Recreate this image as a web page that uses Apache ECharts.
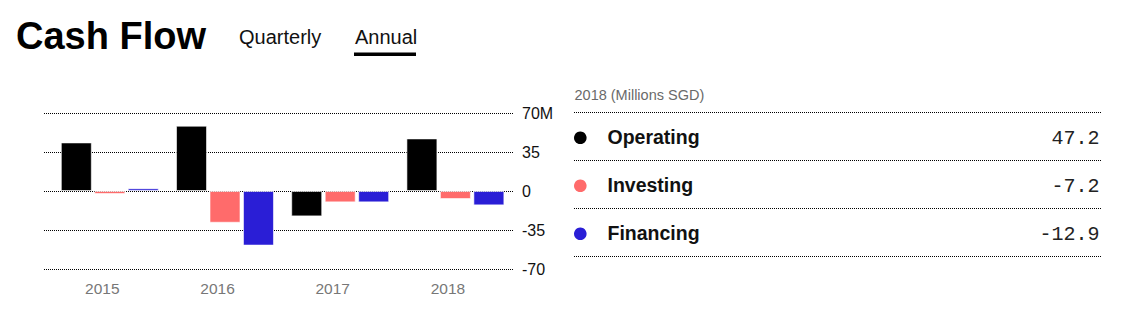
<!DOCTYPE html>
<html>
<head>
<meta charset="utf-8">
<script src="https://cdn.jsdelivr.net/npm/echarts@6/dist/echarts.min.js"></script>
<style>
html,body{margin:0;padding:0;background:#fff;}
#chart{width:1134px;height:330px;}
</style>
</head>
<body>
<div id="chart"></div>
<script>
// ---- data ----
const years = ['2015', '2016', '2017', '2018'];
const seriesNames = ['Operating', 'Investing', 'Financing'];
const operating = [43.6, 58.6, -22.8, 47.2];
const investing = [-2.7, -28.5, -10.2, -7.2];
const financing = [2.4, -49.0, -10.2, -12.9];
const yTicks = [-70, -35, 0, 35, 70];
const unitSuffix = 'M';
const panelTitle = '2018 (Millions SGD)';
const headerTitle = 'Cash Flow';
const tabs = ['Quarterly', 'Annual'];

// ---- styles ----
const colors = ['#000000', '#FF6B6B', '#2A1ED6'];
const FONT = '"Liberation Sans", Arial, Helvetica, sans-serif';
const MONO = '"Liberation Mono", "DejaVu Sans Mono", monospace';
const seriesData = [operating, investing, financing];
const lastIdx = years.length - 1;

const chart = echarts.init(document.getElementById('chart'), null, {renderer: 'svg'});

const gridTop = 113, gridBottom = 61, gridRight = 621;
const dotted = {color: '#000', width: 1, type: [1, 1]};

// place text by its baseline (bottom-aligned box shifted by descent)
function txt(text, x, baseline, size, weight, family, fill, align) {
  return {type: 'text', style: {
    text: text, x: x, y: baseline + 0.19 * size,
    font: (weight ? weight + ' ' : '') + size + 'px ' + family,
    fill: fill, textAlign: align || 'left', verticalAlign: 'bottom'
  }};
}

const graphics = [];
// header
graphics.push(txt(headerTitle, 16, 47.5, 38, 'bold', FONT, '#000'));
graphics.push(txt(tabs[0], 239, 43.4, 20, '', FONT, '#111'));
graphics.push(txt(tabs[1], 355, 43.4, 20, '', FONT, '#111'));
graphics.push({type: 'rect', shape: {x: 354, y: 52.5, width: 62, height: 3.5}, style: {fill: '#000'}});
// side panel
graphics.push(txt(panelTitle, 574.5, 99.3, 14.5, '', FONT, '#6a6a6a'));
const lineYs = [112, 160, 208, 256];
lineYs.forEach(function (ly) {
  graphics.push({type: 'line', shape: {x1: 574, y1: ly + 0.5, x2: 1101, y2: ly + 0.5}, style: {stroke: '#000', lineWidth: 1, lineDash: [1, 1]}});
});
seriesNames.forEach(function (name, i) {
  const base = 143.4 + i * 48;
  graphics.push({type: 'circle', shape: {cx: 580.3, cy: base - 5.6, r: 6.3}, style: {fill: colors[i]}});
  graphics.push(txt(name, 607.5, base, 19.5, 'bold', FONT, '#111'));
  graphics.push(txt(seriesData[i][lastIdx].toFixed(1), 1099.5, base + 1, 20, '', MONO, '#222', 'right'));
});

const option = {
  animation: false,
  backgroundColor: '#fff',
  grid: [
    {left: 52.2, right: gridRight, top: gridTop, bottom: gridBottom},
    {left: 44, right: gridRight, top: gridTop, bottom: gridBottom}
  ],
  xAxis: [
    {
      type: 'category', gridIndex: 0, data: years,
      axisLine: {show: false}, axisTick: {show: false}, splitLine: {show: false},
      axisLabel: {color: '#777', fontSize: 15.5, fontFamily: FONT, margin: 11, padding: [0, 15, 0, 0]}
    },
    {type: 'category', gridIndex: 1, data: years, show: false}
  ],
  yAxis: [
    {type: 'value', gridIndex: 0, min: yTicks[0], max: yTicks[yTicks.length - 1], interval: 35, show: false},
    {
      type: 'value', gridIndex: 1, position: 'right',
      min: yTicks[0], max: yTicks[yTicks.length - 1], interval: 35,
      axisLine: {show: false}, axisTick: {show: false},
      splitLine: {show: true, lineStyle: dotted},
      axisLabel: {
        color: '#111', fontSize: 16, fontFamily: FONT, margin: 9,
        formatter: function (v) { return v === yTicks[yTicks.length - 1] ? v + unitSuffix : String(v); }
      }
    }
  ],
  series: seriesNames.map(function (name, i) {
    return {
      name: name, type: 'bar', xAxisIndex: 0, yAxisIndex: 0,
      data: seriesData[i], barWidth: 31, barGap: '8%',
      itemStyle: {color: colors[i], borderColor: 'rgba(255,255,255,0.6)', borderWidth: 1},
      emphasis: {disabled: true}
    };
  }),
  graphic: graphics
};
chart.setOption(option);
</script>
</body>
</html>
